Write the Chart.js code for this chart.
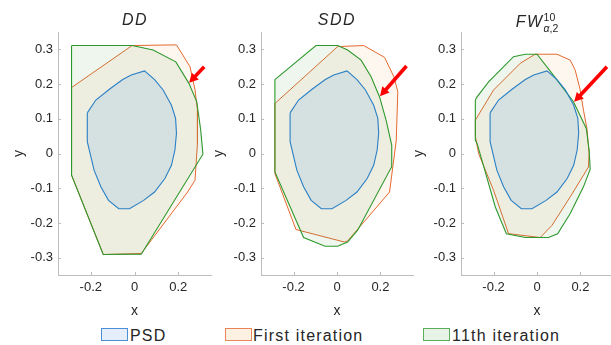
<!DOCTYPE html>
<html>
<head>
<meta charset="utf-8">
<script src="https://cdn.jsdelivr.net/npm/chart.js@4.4.1/dist/chart.umd.min.js"></script>
<style>
body { margin: 0; width: 611px; height: 345px; overflow: hidden; background: #fff; position: relative; font-family: 'Liberation Sans', 'DejaVu Sans', sans-serif; color: #262626; }
canvas { position: absolute; top: 0; }
.ttl { position: absolute; top: 12px; width: 160px; text-align: center; font-style: italic; font-size: 16px; line-height: 16px; letter-spacing: 1.5px; white-space: nowrap; }
.ss { display: inline-block; vertical-align: -5px; font-size: 10.5px; line-height: 10.5px; font-style: normal; letter-spacing: 0; text-align: left; }
.ss span { display: block; }
.box { position: absolute; top: 328px; width: 27px; height: 13px; box-sizing: border-box; border: 1.5px solid; }
.lab { position: absolute; top: 328px; font-size: 16px; line-height: 16px; letter-spacing: 1.2px; white-space: nowrap; }
</style>
</head>
<body>
<canvas id="c1" width="215" height="320" style="left:0px"></canvas>
<canvas id="c2" width="217" height="320" style="left:200px"></canvas>
<canvas id="c3" width="213" height="320" style="left:400px"></canvas>

<div class="ttl" style="left:55px">DD</div>
<div class="ttl" style="left:257px">SDD</div>
<div class="ttl" style="left:457px">FW<span class="ss"><span>10</span><span><i>α</i>,2</span></span></div>

<div class="box" style="left:101px; border-color:#4a90d9; background:#e5eefa"></div>
<div class="lab" style="left:130px">PSD</div>
<div class="box" style="left:225px; border-color:#e8855a; background:#fdf1e2"></div>
<div class="lab" style="left:253px">First iteration</div>
<div class="box" style="left:423px; border-color:#5aae5a; background:#e8f3e8"></div>
<div class="lab" style="left:452px">11th iteration</div>

<script>
// ticks
const xTicks = [-0.2, 0, 0.2];
const yTicks = [-0.3, -0.2, -0.1, 0, 0.1, 0.2, 0.3];

// PSD region (same in all panels)
const psdX = [-0.216, -0.177, -0.115, -0.054, -0.015, 0.046, 0.092, 0.131, 0.169, 0.188, 0.192, 0.185, 0.169, 0.139, 0.092, 0.042, -0.023, -0.072, -0.119, -0.154, -0.185, -0.216];
const psdY = [0.117, 0.154, 0.185, 0.213, 0.226, 0.238, 0.213, 0.183, 0.139, 0.101, 0.058, 0.010, -0.034, -0.072, -0.111, -0.135, -0.159, -0.159, -0.135, -0.096, -0.048, 0.034];

// DD
const ddFirstX = [-0.288, -0.011, 0.192, 0.254, 0.277, 0.288, 0.288, 0.277, 0.243, 0.031, -0.143, -0.288];
const ddFirstY = [0.190, 0.311, 0.313, 0.250, 0.183, 0.125, 0.029, -0.077, -0.111, -0.288, -0.291, -0.0625];
const ddLastX = [-0.288, -0.011, 0.085, 0.189, 0.249, 0.285, 0.303, 0.313, 0.031, -0.143, -0.288];
const ddLastY = [0.311, 0.311, 0.298, 0.264, 0.202, 0.149, 0.067, -0.002, -0.290, -0.291, -0.0625];

// SDD
const sddFirstX = [-0.286, 0.003, 0.123, 0.219, 0.262, 0.280, 0.273, 0.242, 0.049, 0.034, -0.189, -0.286];
const sddFirstY = [0.144, 0.308, 0.311, 0.277, 0.221, 0.178, 0.038, -0.111, -0.252, -0.255, -0.219, -0.058];
const sddLastX = [-0.286, -0.097, 0.003, 0.049, 0.111, 0.157, 0.196, 0.226, 0.252, 0.252, 0.095, 0.049, 0.003, -0.055, -0.154, -0.286];
const sddLastY = [0.213, 0.311, 0.311, 0.298, 0.269, 0.221, 0.163, 0.096, 0.024, -0.038, -0.221, -0.255, -0.267, -0.267, -0.242, -0.053];

// FW
const fwFirstX = [-0.284, -0.200, -0.077, -0.008, 0.092, 0.153, 0.176, 0.199, 0.214, 0.230, 0.240, 0.237, 0.153, 0.069, 0.015, -0.131, -0.200, -0.269, -0.284];
const fwFirstY = [0.096, 0.183, 0.260, 0.286, 0.286, 0.269, 0.240, 0.183, 0.125, 0.072, 0.0, -0.039, -0.125, -0.207, -0.242, -0.231, -0.106, 0.0, 0.05];
const fwLastX = [-0.284, -0.276, -0.222, -0.108, -0.054, 0.0, 0.069, 0.168, 0.227, 0.240, 0.245, 0.214, 0.153, 0.095, 0.053, -0.054, -0.141, -0.192, -0.276, -0.284];
const fwLastY = [0.154, 0.163, 0.207, 0.279, 0.286, 0.286, 0.231, 0.149, 0.072, 0.010, -0.045, -0.096, -0.173, -0.231, -0.242, -0.242, -0.231, -0.154, 0.029, 0.038];

// red arrows [tail, head]
const ddArrow = [[0.319, 0.25], [0.25, 0.204]];
const sddArrow = [[0.32, 0.252], [0.198, 0.165]];
const fwArrow = [[0.322, 0.25], [0.171, 0.149]];

const axisCol = '#bdbdbd';
const fontFam = "'Liberation Sans', 'DejaVu Sans', sans-serif";

function poly(xs, ys) {
    let pts = xs.map((x, i) => ({ x: x, y: ys[i] }));
    pts.push(pts[0]);
    return pts;
}

function ds(pts, line, fill, w) {
    return { data: pts, showLine: true, borderColor: line, backgroundColor: fill, borderWidth: w, pointRadius: 0, tension: 0, fill: 'shape' };
}

const inTicks = {
    id: 'inTicks',
    afterDraw(c) {
        const { ctx, chartArea: a, scales: { x, y } } = c;
        ctx.save(); ctx.strokeStyle = axisCol; ctx.lineWidth = 1; ctx.beginPath();
        x.ticks.forEach(t => { let p = Math.round(x.getPixelForValue(t.value)) + 0.5; ctx.moveTo(p, a.bottom); ctx.lineTo(p, a.bottom - 3); });
        y.ticks.forEach(t => { let p = Math.round(y.getPixelForValue(t.value)) + 0.5; ctx.moveTo(a.left, p); ctx.lineTo(a.left + 3, p); });
        ctx.stroke(); ctx.restore();
    }
};

const arrowPlug = {
    id: 'arrow',
    afterDatasetsDraw(c, args, opts) {
        if (!opts.pts) return;
        const { ctx, scales: { x, y } } = c;
        let x0 = x.getPixelForValue(opts.pts[0][0]), y0 = y.getPixelForValue(opts.pts[0][1]);
        let x1 = x.getPixelForValue(opts.pts[1][0]), y1 = y.getPixelForValue(opts.pts[1][1]);
        let dx = x1 - x0, dy = y1 - y0, len = Math.hypot(dx, dy); dx /= len; dy /= len;
        let hl = 9, hw = 4.8, bx = x1 - dx * hl, by = y1 - dy * hl;
        ctx.save(); ctx.strokeStyle = '#ff0000'; ctx.fillStyle = '#ff0000'; ctx.lineWidth = 3.6;
        ctx.beginPath(); ctx.moveTo(x0, y0); ctx.lineTo(bx + dx, by + dy); ctx.stroke();
        ctx.beginPath(); ctx.moveTo(x1, y1); ctx.lineTo(bx - dy * hw, by + dx * hw); ctx.lineTo(bx + dy * hw, by - dx * hw); ctx.closePath(); ctx.fill();
        ctx.restore();
    }
};

function makePanel(id, yw, padRight, firstX, firstY, lastX, lastY, arrow, yTitlePad) {
    const tickFont = { family: fontFam, size: 13 };
    new Chart(document.getElementById(id), {
        type: 'scatter',
        data: {
            datasets: [
                ds(poly(psdX, psdY), '#2a7fc6', 'rgba(20,110,230,0.11)', 1.1),
                ds(poly(lastX, lastY), '#2e992e', 'rgba(70,160,70,0.09)', 1.1),
                ds(poly(firstX, firstY), '#e2692f', 'rgba(240,150,60,0.08)', 1)
            ]
        },
        options: {
            responsive: false, animation: false, devicePixelRatio: 1,
            layout: { padding: { top: 32, right: padRight, left: 0, bottom: 0 } },
            plugins: { legend: { display: false }, tooltip: { enabled: false }, arrow: { pts: arrow } },
            scales: {
                x: {
                    type: 'linear', min: -0.35, max: 0.35,
                    afterBuildTicks: s => { s.ticks = xTicks.map(v => ({ value: v })); },
                    afterFit: s => { s.height = 45; },
                    grid: { drawOnChartArea: false, drawTicks: false },
                    border: { color: axisCol, width: 1 },
                    ticks: { font: tickFont, color: '#262626', padding: 5, maxRotation: 0, callback: v => String(Number(v.toFixed(1))) },
                    title: { display: true, text: 'x', font: { family: fontFam, size: 14 }, color: '#262626', padding: { top: 0, bottom: 0 } }
                },
                y: {
                    type: 'linear', min: -0.35, max: 0.35,
                    afterBuildTicks: s => { s.ticks = yTicks.map(v => ({ value: v })); },
                    afterFit: s => { s.width = yw; },
                    grid: { drawOnChartArea: false, drawTicks: false },
                    border: { color: axisCol, width: 1 },
                    ticks: { font: tickFont, color: '#262626', padding: 5, callback: v => String(Number(v.toFixed(1))) },
                    title: { display: true, text: 'y', font: { family: fontFam, size: 14 }, color: '#262626', padding: { top: yTitlePad, bottom: 0 } }
                }
            }
        },
        plugins: [inTicks, arrowPlug]
    });
}

makePanel('c1', 58, 4, ddFirstX, ddFirstY, ddLastX, ddLastY, ddArrow, 11);
makePanel('c2', 61, 4, sddFirstX, sddFirstY, sddLastX, sddLastY, sddArrow, 11);
makePanel('c3', 61, 0, fwFirstX, fwFirstY, fwLastX, fwLastY, fwArrow, 11);
</script>
</body>
</html>
